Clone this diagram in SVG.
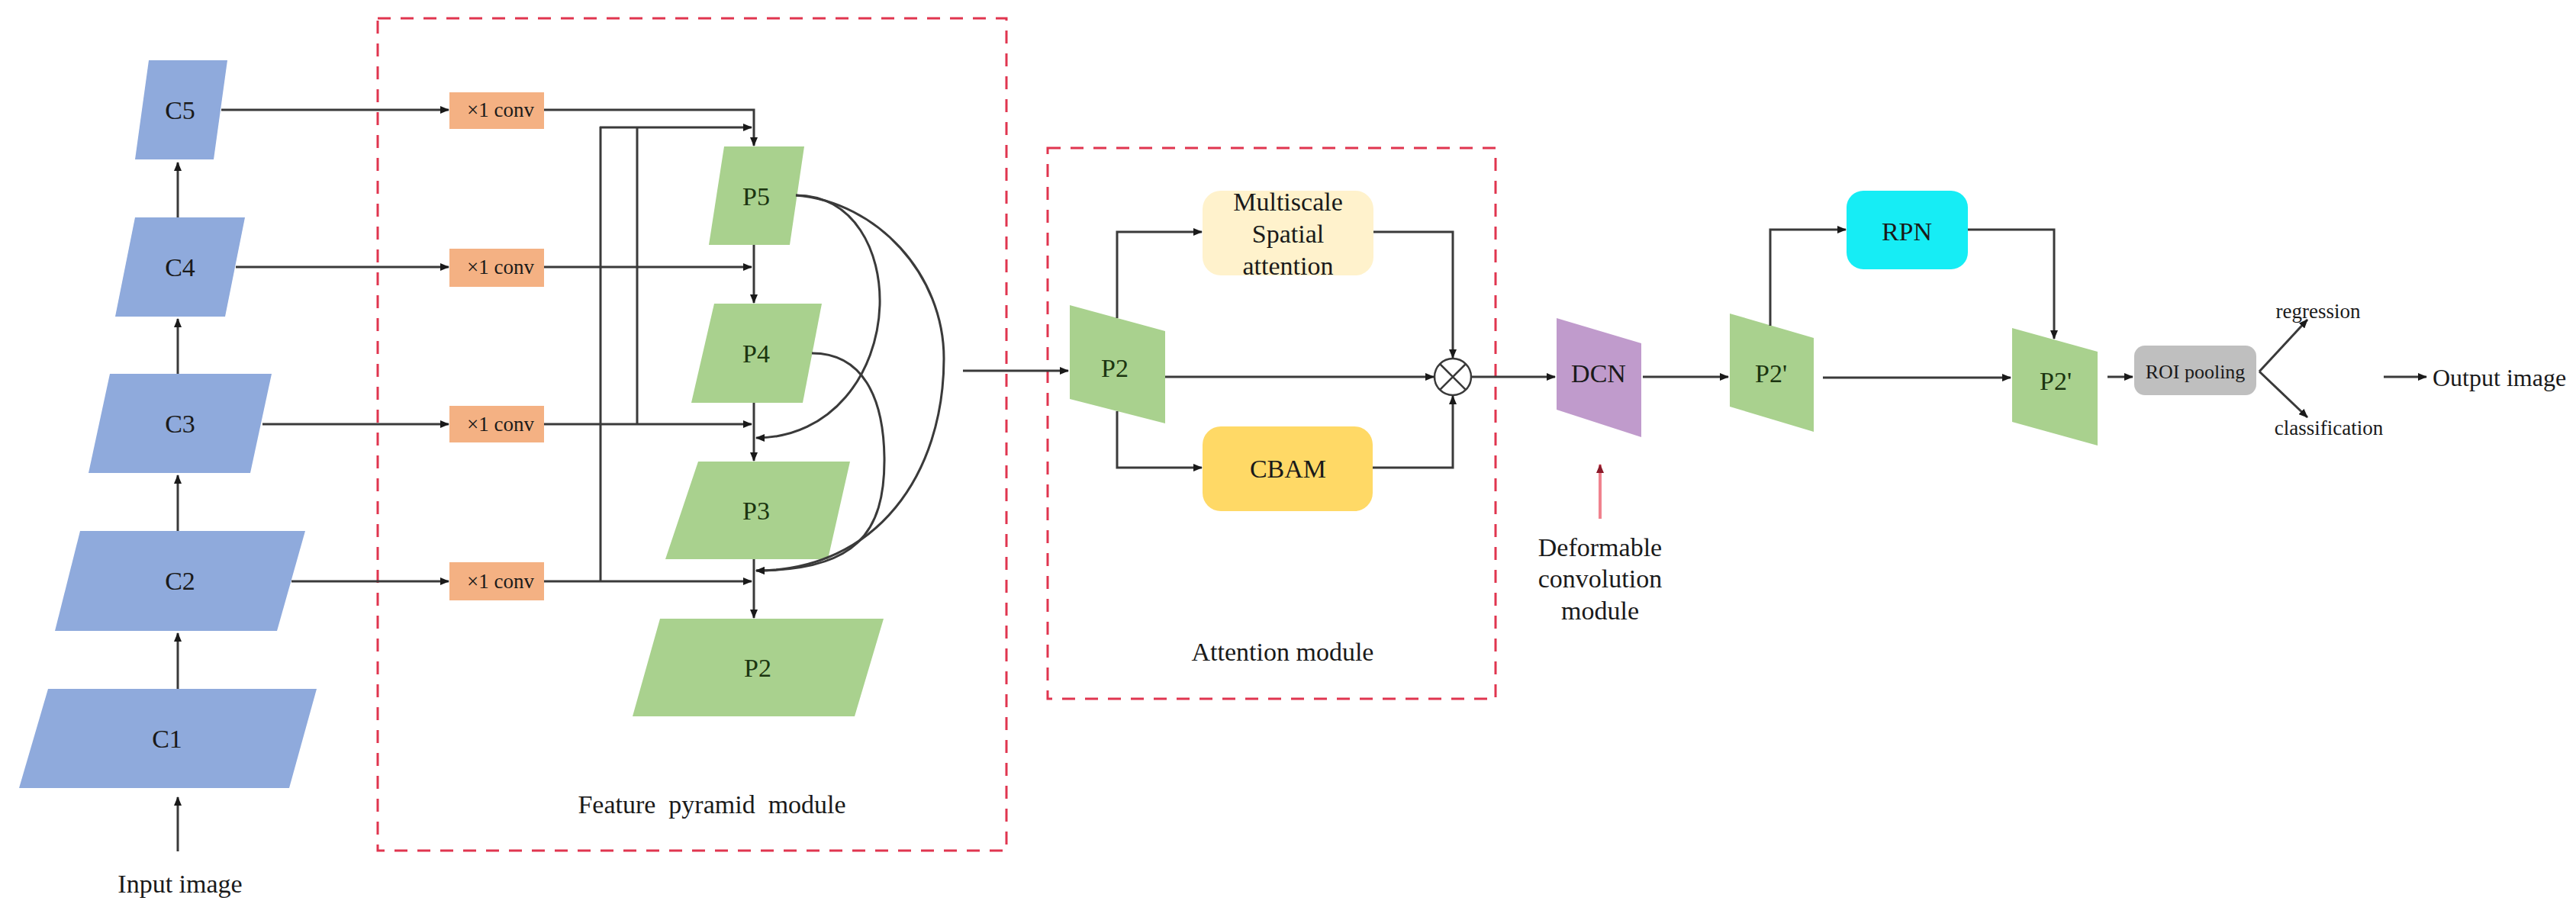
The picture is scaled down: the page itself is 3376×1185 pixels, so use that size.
<svg xmlns="http://www.w3.org/2000/svg" width="3376" height="1185" viewBox="0 0 3376 1185">
  <defs>
    <marker id="arr" markerUnits="userSpaceOnUse" markerWidth="12" markerHeight="10" refX="11" refY="5" orient="auto">
      <path d="M0,0 L12,5 L0,10 Z" fill="#1a1a1a"/>
    </marker>
    <marker id="arrRed" markerUnits="userSpaceOnUse" markerWidth="12" markerHeight="10" refX="11" refY="5" orient="auto">
      <path d="M0,0 L12,5 L0,10 Z" fill="#8b1a2a"/>
    </marker>
  </defs>
  <style>
    text { font-family: "Liberation Serif", "Times New Roman", serif; text-anchor: middle; dominant-baseline: central; fill: #1a1a1a; }
    .lbl { font-size: 34px; }
    .sm { font-size: 27px; }
    .cnode { fill: #8faadc; }
    .pnode { fill: #a9d18e; }
    .ptxt { fill: #1b3510; font-size: 34px; }
    .conv { fill: #f4b183; }
    .ln { fill: none; stroke: #3a3a3a; stroke-width: 3; }
    .la { fill: none; stroke: #3a3a3a; stroke-width: 3; marker-end: url(#arr); }
    .frame { fill: none; stroke: #e0354f; stroke-width: 3; stroke-dasharray: 17 13; }
  </style>
  <rect width="3376" height="1185" fill="#ffffff"/>

  <!-- module frames -->
  <rect class="frame" x="495" y="24" width="824" height="1091"/>
  <rect class="frame" x="1373" y="194" width="587" height="722"/>

  <!-- backbone C1..C5 -->
  <g id="C5"><polygon class="cnode" points="195,79 298,79 280,209 177,209"/><text class="lbl" x="236" y="144" fill="#17294d">C5</text></g>
  <g id="C4"><polygon class="cnode" points="177,285 321,285 295,415 151,415"/><text class="lbl" x="236" y="350" fill="#17294d">C4</text></g>
  <g id="C3"><polygon class="cnode" points="144,490 356,490 328,620 116,620"/><text class="lbl" x="236" y="555" fill="#17294d">C3</text></g>
  <g id="C2"><polygon class="cnode" points="105,696 400,696 363,827 72,827"/><text class="lbl" x="236" y="761" fill="#17294d">C2</text></g>
  <g id="C1"><polygon class="cnode" points="63,903 415,903 379,1033 25,1033"/><text class="lbl" x="219" y="968" fill="#17294d">C1</text></g>
  <g id="input-label"><text class="lbl" x="236" y="1158">Input image</text></g>

  <!-- lateral 1x1 convolutions -->
  <g id="conv5"><rect class="conv" x="589" y="121" width="124" height="48"/><text class="sm" x="656" y="144">×1 conv</text></g>
  <g id="conv4"><rect class="conv" x="589" y="326" width="124" height="50"/><text class="sm" x="656" y="350">×1 conv</text></g>
  <g id="conv3"><rect class="conv" x="589" y="532" width="124" height="48"/><text class="sm" x="656" y="556">×1 conv</text></g>
  <g id="conv2"><rect class="conv" x="589" y="737" width="124" height="50"/><text class="sm" x="656" y="762">×1 conv</text></g>

  <!-- pyramid levels -->
  <g id="P5"><polygon class="pnode" points="949,192 1054,192 1035,321 929,321"/><text class="ptxt" x="991" y="257">P5</text></g>
  <g id="P4"><polygon class="pnode" points="936,398 1077,398 1052,528 906,528"/><text class="ptxt" x="991" y="463">P4</text></g>
  <g id="P3"><polygon class="pnode" points="915,605 1114,605 1085,733 872,733"/><text class="ptxt" x="991" y="669">P3</text></g>
  <g id="P2"><polygon class="pnode" points="865,811 1158,811 1120,939 829,939"/><text class="ptxt" x="993" y="875">P2</text></g>
  <g id="fpn-label"><text class="lbl" x="933" y="1054" xml:space="preserve">Feature  pyramid  module</text></g>

  <!-- attention module -->
  <g id="P2-att"><polygon class="pnode" points="1402,400 1527,434 1527,555 1402,523"/><text class="ptxt" x="1461" y="482">P2</text></g>
  <g id="msa"><rect x="1576" y="250" width="224" height="111" rx="24" fill="#fff2cc"/>
    <text class="lbl" x="1688" y="264">Multiscale</text>
    <text class="lbl" x="1688" y="306">Spatial</text>
    <text class="lbl" x="1688" y="348">attention</text></g>
  <g id="cbam"><rect x="1576" y="559" width="223" height="111" rx="24" fill="#ffd966"/><text class="lbl" x="1688" y="614">CBAM</text></g>
  <g id="mult"><circle cx="1904" cy="494" r="24" fill="#ffffff" stroke="#3a3a3a" stroke-width="2.5"/>
    <path d="M1887,477 L1921,511 M1921,477 L1887,511" stroke="#3a3a3a" stroke-width="2.5"/></g>
  <g id="att-label"><text class="lbl" x="1681" y="854">Attention module</text></g>

  <!-- deformable convolution -->
  <g id="DCN"><polygon points="2040,417 2151,450 2151,573 2040,537" fill="#c09bcc"/><text class="lbl" x="2095" y="489" fill="#3a2a44">DCN</text></g>
  <g id="dcn-label">
    <text class="lbl" x="2097" y="717">Deformable</text>
    <text class="lbl" x="2097" y="758">convolution</text>
    <text class="lbl" x="2097" y="800">module</text></g>

  <!-- detection head -->
  <g id="P2p-a"><polygon class="pnode" points="2267,411 2377,443 2377,566 2267,533"/><text class="ptxt" x="2321" y="489">P2'</text></g>
  <g id="RPN"><rect x="2420" y="250" width="159" height="103" rx="22" fill="#16edf5"/><text class="lbl" x="2499" y="303">RPN</text></g>
  <g id="P2p-b"><polygon class="pnode" points="2637,430 2749,461 2749,584 2637,553"/><text class="ptxt" x="2694" y="499">P2'</text></g>
  <g id="roi"><rect x="2797" y="453" width="160" height="65" rx="14" fill="#bfbfbf"/><text x="2877" y="487" font-size="26">ROI pooling</text></g>
  <g id="regression"><text class="sm" x="3038" y="408">regression</text></g>
  <g id="classification"><text class="sm" x="3052" y="561">classification</text></g>
  <g id="output"><text x="3188" y="495" font-size="32" style="text-anchor:start">Output image</text></g>

  <!-- connectors -->
  <g id="connectors">
    <!-- backbone upward path -->
    <line class="la" x1="233" y1="1116" x2="233" y2="1045"/>
    <line class="la" x1="233" y1="903" x2="233" y2="830"/>
    <line class="la" x1="233" y1="696" x2="233" y2="623"/>
    <line class="la" x1="233" y1="490" x2="233" y2="418"/>
    <line class="la" x1="233" y1="285" x2="233" y2="213"/>
    <!-- backbone to lateral convs -->
    <line class="la" x1="290" y1="144" x2="588" y2="144"/>
    <line class="la" x1="309" y1="350" x2="588" y2="350"/>
    <line class="la" x1="344" y1="556" x2="588" y2="556"/>
    <line class="la" x1="382" y1="762" x2="588" y2="762"/>
    <!-- lateral convs into the top-down column -->
    <polyline class="la" points="713,144 988,144 988,191"/>
    <line class="la" x1="713" y1="350" x2="985" y2="350"/>
    <line class="la" x1="713" y1="556" x2="985" y2="556" stroke-width="4"/>
    <line class="la" x1="713" y1="762" x2="985" y2="762"/>
    <!-- skip links to the top level -->
    <line class="la" x1="786" y1="167" x2="985" y2="167"/>
    <line class="ln" x1="787" y1="166" x2="787" y2="762"/>
    <line class="ln" x1="835" y1="166" x2="835" y2="556"/>
    <!-- top-down column -->
    <line class="la" x1="988" y1="321" x2="988" y2="397"/>
    <line class="la" x1="988" y1="528" x2="988" y2="604"/>
    <line class="la" x1="988" y1="733" x2="988" y2="810"/>
    <!-- cross-level curves -->
    <path class="la" d="M1043,256 C1120,256 1155,330 1153,400 C1150,490 1090,574 991,574"/>
    <path class="la" d="M1043,256 C1150,265 1237,360 1237,470 C1237,620 1150,748 991,748"/>
    <path class="la" d="M1064,463 C1130,463 1158,520 1159,600 C1160,700 1120,748 991,748"/>
    <!-- into attention module -->
    <line class="la" x1="1262" y1="486" x2="1400" y2="486"/>
    <polyline class="la" points="1464,417 1464,304 1575,304"/>
    <polyline class="la" points="1464,539 1464,613 1575,613"/>
    <line class="la" x1="1527" y1="494" x2="1879" y2="494"/>
    <polyline class="la" points="1800,304 1904,304 1904,469"/>
    <polyline class="la" points="1799,613 1904,613 1904,519"/>
    <line class="la" x1="1928" y1="494" x2="2038" y2="494"/>
    <line x1="2097" y1="680" x2="2097" y2="609" stroke="#f0828e" stroke-width="4" marker-end="url(#arrRed)"/>
    <!-- detection head -->
    <line class="la" x1="2153" y1="494" x2="2265" y2="494" stroke-width="4"/>
    <polyline class="la" points="2320,427 2320,301 2419,301"/>
    <polyline class="la" points="2579,301 2692,301 2692,444"/>
    <line class="la" x1="2389" y1="495" x2="2635" y2="495"/>
    <line class="la" x1="2762" y1="494" x2="2795" y2="494"/>
    <line class="la" x1="2961" y1="487" x2="3024" y2="419"/>
    <line class="la" x1="2961" y1="487" x2="3024" y2="547"/>
    <line class="la" x1="3124" y1="494" x2="3180" y2="494"/>
  </g>
</svg>
